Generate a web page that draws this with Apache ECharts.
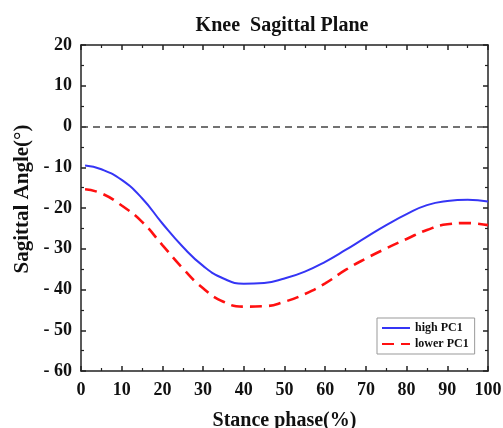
<!DOCTYPE html>
<html>
<head>
<meta charset="utf-8">
<script src="https://cdn.jsdelivr.net/npm/echarts@6/dist/echarts.min.js"></script>
<style>
  html, body { margin: 0; padding: 0; background: #fff; }
  #chart { width: 503px; height: 428px; }
</style>
</head>
<body>
<div id="chart"></div>
<script>
// Stance phase (%) sample points
const phase = [1, 5, 10, 15, 20, 25, 30, 35, 40, 45, 50, 55, 60, 65, 70, 75, 80, 85, 90, 95, 100];
// Knee sagittal angle (deg), high PC1 group
const highPC1 = [-9.6, -10.5, -13.1, -17.6, -23.8, -29.5, -34.2, -37.3, -38.6, -38.4, -37.3, -35.6, -33.2, -30.3, -27.2, -24.2, -21.5, -19.3, -18.3, -18.0, -18.4];
// Knee sagittal angle (deg), lower PC1 group
const lowerPC1 = [-15.4, -16.4, -19.4, -23.4, -29.1, -34.8, -39.7, -43.0, -44.2, -44.1, -43.0, -41.1, -38.5, -35.2, -32.4, -29.9, -27.6, -25.4, -24.0, -23.7, -24.2];

const seriesNames = ['high PC1', 'lower PC1'];
const xTicks = { min: 0, max: 100, step: 10 };
const yTicks = { min: -60, max: 20, step: 10 };

const FONT = '"Liberation Serif", "Times New Roman", serif';

const pairs = (ys) => phase.map((p, i) => [p, ys[i]]);
const yFmt = (v) => (v < 0 ? '- ' + Math.abs(v) : String(v));

const axisCommon = {
  axisLine: { show: true, onZero: false, lineStyle: { color: '#222', width: 1.5 } },
  axisTick: { show: true, inside: true, length: 5, lineStyle: { color: '#222', width: 1.5 } },
  minorTick: { show: true, splitNumber: 2, length: 3, lineStyle: { color: '#222', width: 1.2 } },
  splitLine: { show: false },
  minorSplitLine: { show: false }
};

const chart = echarts.init(document.getElementById('chart'), null, { renderer: 'canvas' });

chart.setOption({
  backgroundColor: '#fff',
  animation: false,
  title: {
    text: 'Knee  Sagittal Plane',
    left: 277,
    textAlign: 'center',
    top: 11,
    textStyle: { fontFamily: FONT, fontWeight: 'bold', fontSize: 20, color: '#111' }
  },
  grid: { left: 81, right: 15, top: 45, bottom: 57, containLabel: false, outerBoundsMode: 'none' },
  legend: {
    orient: 'vertical',
    left: 377,
    top: 318,
    data: seriesNames,
    itemWidth: 28,
    itemHeight: 10,
    itemGap: 4,
    padding: [4, 6, 4, 4],
    borderColor: '#999',
    borderWidth: 1,
    itemStyle: { opacity: 0 },
    textStyle: { fontFamily: FONT, fontWeight: 'bold', fontSize: 12, color: '#111' }
  },
  xAxis: [
    Object.assign({
      type: 'value', position: 'bottom',
      min: xTicks.min, max: xTicks.max, interval: xTicks.step,
      name: 'Stance phase(%)', nameLocation: 'middle', nameGap: 40,
      nameTextStyle: { fontFamily: FONT, fontWeight: 'bold', fontSize: 20, color: '#111' },
      axisLabel: { margin: 10, fontFamily: FONT, fontWeight: 'bold', fontSize: 18, color: '#111' }
    }, axisCommon),
    Object.assign({
      type: 'value', position: 'top',
      min: xTicks.min, max: xTicks.max, interval: xTicks.step,
      axisLabel: { show: false }
    }, axisCommon)
  ],
  yAxis: [
    Object.assign({
      type: 'value', position: 'left',
      min: yTicks.min, max: yTicks.max, interval: yTicks.step,
      name: 'Sagittal Angle(°)', nameLocation: 'middle', nameGap: 47, nameRotate: 90,
      nameTextStyle: { fontFamily: FONT, fontWeight: 'bold', fontSize: 21, color: '#111', padding: [0, 0, 0, 18] },
      axisLabel: { margin: 9, fontFamily: FONT, fontWeight: 'bold', fontSize: 18, color: '#111', formatter: yFmt }
    }, axisCommon),
    Object.assign({
      type: 'value', position: 'right',
      min: yTicks.min, max: yTicks.max, interval: yTicks.step,
      axisLabel: { show: false }
    }, axisCommon)
  ],
  series: [
    {
      name: seriesNames[0],
      type: 'line',
      data: pairs(highPC1),
      smooth: 0.5,
      symbol: 'none',
      lineStyle: { color: '#3535f5', width: 2 },
      itemStyle: { color: '#3535f5' },
      markLine: {
        silent: true,
        symbol: 'none',
        label: { show: false },
        lineStyle: { color: '#444', width: 1.6, type: [7, 5] },
        data: [{ yAxis: 0 }]
      },
      z: 3
    },
    {
      name: seriesNames[1],
      type: 'line',
      data: pairs(lowerPC1),
      smooth: 0.5,
      symbol: 'none',
      lineStyle: { color: '#ff1010', width: 2.6, type: [12, 7] },
      itemStyle: { color: '#ff1010' },
      z: 2
    }
  ]
});
</script>
</body>
</html>
